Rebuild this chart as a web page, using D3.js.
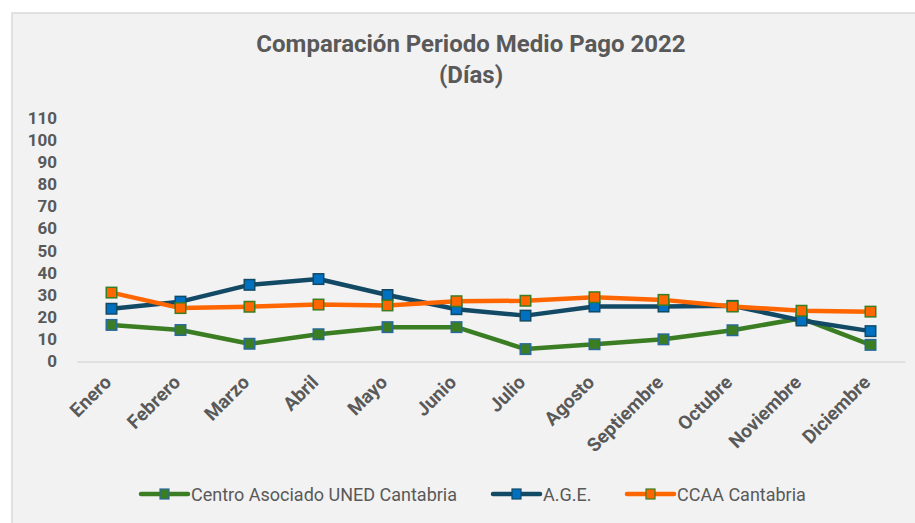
<meta charset="utf-8">
<script src="https://d3js.org/d3.v7.min.js"></script>
<style>
body { margin: 0; background: white; }
svg { font-family: 'Roboto'; }
</style>
<body>
<div id="chart"></div>
<script>
const months = ["Enero", "Febrero", "Marzo", "Abril", "Mayo", "Junio", "Julio", "Agosto", "Septiembre", "Octubre", "Noviembre", "Diciembre"];
const centro = [16.5, 14.2, 8, 12.3, 15.5, 15.5, 5.6, 7.8, 10, 14.1, 19.5, 7.5];
const age = [23.8, 27, 34.6, 37.2, 30, 23.6, 20.7, 24.8, 24.8, 25.1, 18.5, 13.7];
const ccaa = [31.1, 24.1, 24.7, 25.7, 25.3, 27.2, 27.4, 29, 27.8, 24.8, 22.9, 22.5];
const yTicks = [0, 10, 20, 30, 40, 50, 60, 70, 80, 90, 100, 110];

const series = [
    {name: "Centro Asociado UNED Cantabria", values: centro, line: "#3b7d23", fill: "#3b7d23", stroke: "#2a6a9a"},
    {name: "A.G.E.", values: age, line: "#124a66", fill: "#0070c0", stroke: "#124a66"},
    {name: "CCAA Cantabria", values: ccaa, line: "#ff6600", fill: "#ff6600", stroke: "#3b7d23"}
];

var width = 915, height = 523;
var svg = d3.select("#chart").append("svg")
    .attr("width", width)
    .attr("height", height);

// chart background
svg.append("rect")
    .attr("x", 12).attr("y", 13)
    .attr("width", width).attr("height", height)
    .attr("fill", "#f2f2f2")
    .attr("stroke", "#d9d9d9")
    .attr("stroke-width", 1.5);

// title
svg.append("text")
    .attr("x", 471).attr("y", 51.5)
    .attr("text-anchor", "middle")
    .attr("font-size", 24).attr("font-weight", "bold")
    .attr("fill", "#595959")
    .text("Comparación Periodo Medio Pago 2022");
svg.append("text")
    .attr("x", 471).attr("y", 83)
    .attr("text-anchor", "middle")
    .attr("font-size", 24).attr("font-weight", "bold")
    .attr("fill", "#595959")
    .text("(Días)");

var x = d3.scaleBand()
    .domain(months)
    .range([77, 905]);

var y = d3.scaleLinear()
    .domain([0, 110])
    .range([361.5, 117.7]);

// y axis labels
var yAxis = svg.append("g")
    .attr("transform", "translate(57,0)")
    .call(d3.axisLeft(y).tickValues(yTicks).tickSize(0).tickPadding(0));
yAxis.select(".domain").remove();
yAxis.selectAll("text")
    .attr("font-family", "Roboto")
    .attr("font-size", 17)
    .attr("font-weight", "bold")
    .attr("fill", "#595959");

// x axis
var xAxis = svg.append("g")
    .attr("transform", "translate(0," + y(0) + ")")
    .call(d3.axisBottom(x).tickSize(0).tickPadding(0));
xAxis.select(".domain")
    .attr("stroke", "#d9d9d9")
    .attr("stroke-width", 1.5);
xAxis.selectAll("text")
    .attr("font-family", "Roboto")
    .attr("font-size", 19)
    .attr("font-weight", "bold")
    .attr("fill", "#595959")
    .attr("text-anchor", "end")
    .attr("dy", 0)
    .attr("transform", "translate(" + (x.bandwidth() / 2 + 1) + ",22) rotate(-45)")
    .attr("x", 0).attr("y", 0);
xAxis.selectAll(".tick").attr("transform", d => "translate(" + x(d) + ",0)");

var line = d3.line()
    .x((d, i) => x(months[i]) + x.bandwidth() / 2)
    .y(d => y(d));

var ms = 10.5;
series.forEach(function(s) {
    svg.append("path")
        .datum(s.values)
        .attr("fill", "none")
        .attr("stroke", s.line)
        .attr("stroke-width", 4.5)
        .attr("stroke-linejoin", "round")
        .attr("d", line);
    svg.append("g")
        .selectAll("rect")
        .data(s.values)
        .enter()
        .append("rect")
        .attr("x", (d, i) => x(months[i]) + x.bandwidth() / 2 - ms / 2)
        .attr("y", d => y(d) - ms / 2)
        .attr("width", ms).attr("height", ms)
        .attr("fill", s.fill)
        .attr("stroke", s.stroke)
        .attr("stroke-width", 1.5);
});

// legend
var legendX = [141, 493, 627];
var legend = svg.append("g");
series.forEach(function(s, i) {
    var g = legend.append("g").attr("transform", "translate(" + legendX[i] + ",494)");
    g.append("line")
        .attr("x1", 0).attr("x2", 47)
        .attr("stroke", s.line).attr("stroke-width", 4.5)
        .attr("stroke-linecap", "round");
    g.append("rect")
        .attr("x", 23.5 - 4.5).attr("y", -5)
        .attr("width", 9).attr("height", 10)
        .attr("fill", s.fill)
        .attr("stroke", s.stroke)
        .attr("stroke-width", 1.2);
    g.append("text")
        .attr("x", 50).attr("y", 6.5)
        .attr("font-size", 18)
        .attr("fill", "#595959")
        .text(s.name);
});
</script>
</body>
